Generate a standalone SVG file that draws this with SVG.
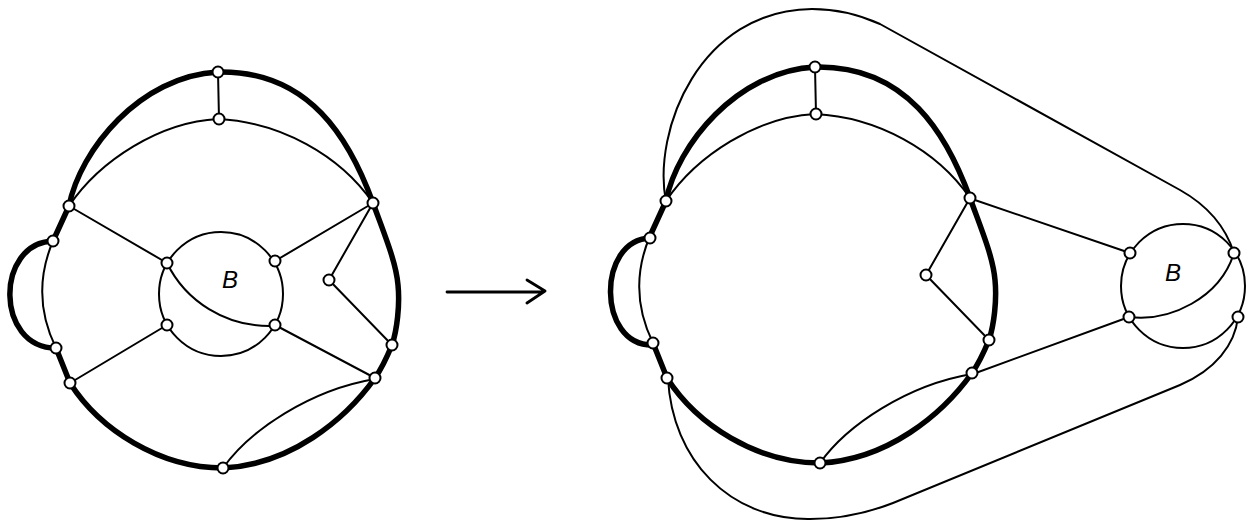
<svg xmlns="http://www.w3.org/2000/svg" width="1257" height="521" viewBox="0 0 1257 521">
<style>
.thick{fill:none;stroke:#000;stroke-width:5.5;stroke-linecap:round;stroke-linejoin:round}
.thin{fill:none;stroke:#000;stroke-width:2;stroke-linecap:round;stroke-linejoin:round}
.node circle{fill:#fff;stroke:#000;stroke-width:2}
.lbl{font-family:"Liberation Sans",Arial,sans-serif;font-style:italic;font-size:24px;fill:#000;text-anchor:middle}
</style>
<rect width="1257" height="521" fill="#fff"/>
<defs>
<g id="base">
<path class="thick" d="M53,241 L69,206 C80,150 140,76 218,72 C310,70 350,140 373,203 C385,236 396,262 398,285 C400,305 397,330 392,345 C387,357 382,368 375,378 C345,420 290,465 223,468 C160,468 100,430 70,383 L56,348"/>
<path class="thin" d="M56,348 Q30,295 53,241"/>
<path class="thin" d="M69,206 C100,160 160,122 218,119 C280,122 340,155 373,203"/>
<path class="thin" d="M218,72 L219,119"/>
<path class="thin" d="M223,468 C250,430 310,390 375,379"/>
<path class="thin" d="M373,203 L329,280 L392,345"/>
</g>
</defs>
<g id="connectors">
<use href="#base"/>
<path class="thick" d="M53,241 C-5,243 -5,348 56,348"/>
<circle class="thin" cx="221" cy="294" r="62"/>
<path class="thin" d="M167,263 C185,300 225,328 275,326"/>
<path class="thin" d="M69,206 L167,263 M373,203 L275,261 M70,383 L167,325 M375,378 L275,325"/>
<use href="#base" transform="translate(597,-5)"/>
<path class="thick" d="M650,238 C597,240 597,345 652,345"/>
<circle class="thin" cx="1183" cy="286" r="62"/>
<path class="thin" d="M1129,317 C1170,322 1220,298 1234,253"/>
<path class="thin" d="M969,198 L1130,253 M973,374 L1129,317"/>
<path class="thin" d="M666,202 C652,130 700,10 812,9 C840,9 860,15 880,24 L1180,190 C1205,204 1225,225 1234,253"/>
<path class="thin" d="M668,378 C672,460 730,520 810,519 C840,519 865,514 893,503 L1180,385 C1215,370 1235,345 1238,317"/>
<path class="thin" style="stroke-width:2.8" d="M447,292 L543,292 M527,280 L545,291 L527,303"/>
</g>
<g id="left-nodes" class="node">
<g id="L-top"><circle cx="218" cy="72" r="5.5"/></g>
<g id="L-innertop"><circle cx="219" cy="119" r="5.5"/></g>
<g id="L-lu"><circle cx="69" cy="206" r="5.5"/></g>
<g id="L-ru"><circle cx="373" cy="203" r="5.5"/></g>
<g id="L-ls1"><circle cx="53" cy="241" r="5.5"/></g>
<g id="L-ls2"><circle cx="56" cy="348" r="5.5"/></g>
<g id="L-ll"><circle cx="70" cy="383" r="5.5"/></g>
<g id="L-in"><circle cx="329" cy="280" r="5.5"/></g>
<g id="L-rs"><circle cx="392" cy="345" r="5.5"/></g>
<g id="L-rl"><circle cx="375" cy="378" r="5.5"/></g>
<g id="L-bot"><circle cx="223" cy="468" r="5.5"/></g>
<g id="L-b1"><circle cx="167" cy="263" r="5.5"/></g>
<g id="L-b2"><circle cx="275" cy="261" r="5.5"/></g>
<g id="L-b3"><circle cx="167" cy="325" r="5.5"/></g>
<g id="L-b4"><circle cx="275" cy="325" r="5.5"/></g>
</g>
<g id="right-nodes" class="node">
<g id="R-top"><circle cx="815" cy="67" r="5.5"/></g>
<g id="R-innertop"><circle cx="816" cy="114" r="5.5"/></g>
<g id="R-lu"><circle cx="666" cy="201" r="5.5"/></g>
<g id="R-ru"><circle cx="970" cy="198" r="5.5"/></g>
<g id="R-ls1"><circle cx="650" cy="238" r="5.5"/></g>
<g id="R-ls2"><circle cx="653" cy="343" r="5.5"/></g>
<g id="R-ll"><circle cx="667" cy="378" r="5.5"/></g>
<g id="R-in"><circle cx="926" cy="275" r="5.5"/></g>
<g id="R-rs"><circle cx="989" cy="340" r="5.5"/></g>
<g id="R-rl"><circle cx="972" cy="373" r="5.5"/></g>
<g id="R-bot"><circle cx="820" cy="463" r="5.5"/></g>
<g id="R-b1"><circle cx="1130" cy="253" r="5.5"/></g>
<g id="R-b2"><circle cx="1234" cy="253" r="5.5"/></g>
<g id="R-b3"><circle cx="1129" cy="317" r="5.5"/></g>
<g id="R-b4"><circle cx="1238" cy="317" r="5.5"/></g>
</g>
<g id="labels">
<text class="lbl" x="230" y="288">B</text>
<text class="lbl" x="1173" y="281">B</text>
</g>
</svg>
